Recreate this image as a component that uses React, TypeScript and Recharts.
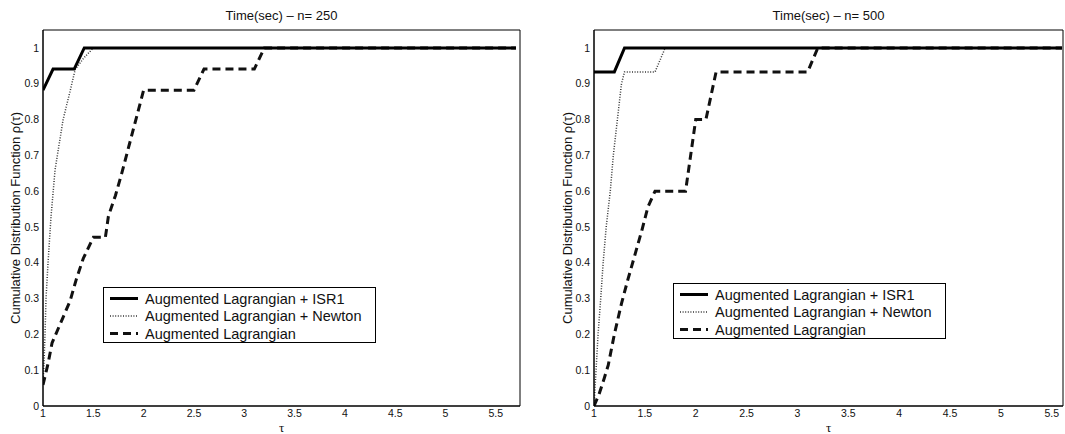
import React from 'react';
import { LineChart, Line, XAxis, YAxis } from 'recharts';

// ---------- data ----------
const yTicks = [0, 0.1, 0.2, 0.3, 0.4, 0.5, 0.6, 0.7, 0.8, 0.9, 1];
const xTicks = [1, 1.5, 2, 2.5, 3, 3.5, 4, 4.5, 5, 5.5];
const seriesNames = ['Augmented Lagrangian + ISR1', 'Augmented Lagrangian + Newton', 'Augmented Lagrangian'];
const titles = ['Time(sec) \u2013 n= 250', 'Time(sec) \u2013 n= 500'];

// n = 250
const leftIsr1Tau = [1, 1.1, 1.31, 1.41, 5.7];
const leftIsr1Rho = [0.882, 0.941, 0.941, 1, 1];
const leftNewtonTau = [1, 1.01, 1.02, 1.03, 1.05, 1.08, 1.12, 1.2, 1.27, 1.32, 1.4, 1.5, 5.7];
const leftNewtonRho = [0.06, 0.12, 0.2, 0.3, 0.4, 0.53, 0.66, 0.8, 0.88, 0.94, 0.97, 1, 1];
const leftAlTau = [1, 1.05, 1.09, 1.18, 1.27, 1.33, 1.4, 1.5, 1.62, 1.65, 1.72, 1.78, 2.0, 2.5, 2.6, 3.1, 3.2, 5.7];
const leftAlRho = [0.059, 0.118, 0.176, 0.235, 0.294, 0.353, 0.412, 0.471, 0.471, 0.53, 0.588, 0.647, 0.882, 0.882, 0.941, 0.941, 1, 1];

// n = 500
const rightIsr1Tau = [1, 1.2, 1.3, 5.6];
const rightIsr1Rho = [0.933, 0.933, 1, 1];
const rightNewtonTau = [1, 1.02, 1.04, 1.066, 1.09, 1.12, 1.16, 1.19, 1.23, 1.27, 1.3, 1.6, 1.7, 5.6];
const rightNewtonRho = [0, 0.1, 0.2, 0.3, 0.4, 0.5, 0.6, 0.7, 0.8, 0.9, 0.933, 0.933, 1, 1];
const rightAlTau = [1, 1.05, 1.1, 1.14, 1.2, 1.27, 1.33, 1.4, 1.47, 1.53, 1.6, 1.9, 2.0, 2.1, 2.2, 3.1, 3.2, 5.6];
const rightAlRho = [0, 0.033, 0.077, 0.114, 0.2, 0.286, 0.35, 0.42, 0.49, 0.556, 0.6, 0.6, 0.8, 0.8, 0.933, 0.933, 1, 1];

const zip = (t: number[], r: number[]) => t.map((x, i) => ({ x, y: r[i] }));

// ---------- styles ----------
const FONT = '"Liberation Sans", Arial, Helvetica, sans-serif';
const H = 434;
const AXIS_W = 30;
const styles = [
  { stroke: '#000', strokeWidth: 3, dash: undefined as string | undefined },
  { stroke: '#333', strokeWidth: 1.5, dash: '1 1.6' },
  { stroke: '#111', strokeWidth: 3, dash: '8 5' },
];

type PanelProps = {
  left: number;
  width: number;
  mLeft: number;
  mRight: number;
  xMax: number;
  title: string;
  data: { x: number; y: number }[][];
  legendLeft: number;
  legendTop: number;
  ylabelX: number;
};

function Panel(p: PanelProps) {
  const plotLeft = p.mLeft + AXIS_W;
  const plotRight = p.width - p.mRight;
  const cx = (plotLeft + plotRight) / 2;
  const dom: [number, number] = [1, p.xMax];
  const tickStyle = { fontSize: 10.5, fill: '#111', fontFamily: FONT };
  const order = [2, 1, 0];
  return (
    <div style={{ position: 'absolute', left: p.left, top: 0, width: p.width, height: H }}>
      <LineChart width={p.width} height={H} margin={{ top: 30, right: p.mRight, bottom: 8, left: p.mLeft }}>
        <XAxis xAxisId="b" type="number" dataKey="x" domain={dom} ticks={xTicks} allowDataOverflow height={20}
          tickLine={false} tickSize={0} tickMargin={4} axisLine={{ stroke: '#000' }} tick={tickStyle} interval={0} />
        <XAxis xAxisId="bm" orientation="bottom" mirror type="number" dataKey="x" domain={dom} ticks={xTicks} allowDataOverflow
          height={20} tick={false} tickSize={5} tickLine={{ stroke: '#000' }} axisLine={{ stroke: '#000' }} interval={0} />
        <XAxis xAxisId="t" orientation="top" mirror type="number" dataKey="x" domain={dom} ticks={xTicks} allowDataOverflow
          height={20} tick={false} tickSize={5} tickLine={{ stroke: '#000' }} axisLine={{ stroke: '#000' }} interval={0} />
        <YAxis yAxisId="l" type="number" domain={[0, 1.05]} ticks={yTicks} allowDataOverflow width={AXIS_W}
          tickLine={false} tickSize={0} tickMargin={4} axisLine={{ stroke: '#000' }} tick={tickStyle} interval={0} />
        <YAxis yAxisId="lm" mirror type="number" domain={[0, 1.05]} ticks={yTicks} allowDataOverflow width={AXIS_W}
          tick={false} tickSize={5} tickLine={{ stroke: '#000' }} axisLine={{ stroke: '#000' }} interval={0} />
        <YAxis yAxisId="r" orientation="right" mirror type="number" domain={[0, 1.05]} ticks={yTicks} allowDataOverflow width={AXIS_W}
          tick={false} tickSize={5} tickLine={{ stroke: '#000' }} axisLine={{ stroke: '#000' }} interval={0} />
        {order.map((i) => (
          <Line key={i} xAxisId="b" yAxisId="l" data={p.data[i]} dataKey="y" type="linear"
            stroke={styles[i].stroke} strokeWidth={styles[i].strokeWidth} strokeDasharray={styles[i].dash}
            dot={false} activeDot={false} isAnimationActive={false} />
        ))}
      </LineChart>
      <svg width={p.width} height={H} style={{ position: 'absolute', left: 0, top: 0, pointerEvents: 'none' }}>
        <text x={cx} y={19.5} textAnchor="middle" fontSize={13} fontFamily={FONT} fill="#111">{p.title}</text>
        <text x={cx} y={427} textAnchor="middle" dominantBaseline="central" fontSize={13}
          fontFamily='"Liberation Serif", "DejaVu Serif", serif' fill="#111">τ</text>
        <text x={p.ylabelX} y={218} textAnchor="middle" dominantBaseline="central" fontSize={13} fontFamily={FONT} fill="#111"
          transform={`rotate(-90 ${p.ylabelX} 218)`}>Cumulative Distribution Function ρ(τ)</text>
        <g transform={`translate(${p.legendLeft} ${p.legendTop})`}>
          <rect x={0.5} y={0.5} width={272} height={55} fill="#fff" stroke="#000" strokeWidth={1} />
          {seriesNames.map((name, i) => {
            const yy = 11.5 + i * 17.5;
            return (
              <g key={name}>
                <line x1={7} x2={35} y1={yy} y2={yy} stroke={styles[i].stroke} strokeWidth={styles[i].strokeWidth}
                  strokeDasharray={styles[i].dash} />
                <text x={42} y={yy} dominantBaseline="central" fontSize={14.5} fontFamily={FONT} fill="#111">{name}</text>
              </g>
            );
          })}
        </g>
      </svg>
    </div>
  );
}

export default function App() {
  const leftData = [zip(leftIsr1Tau, leftIsr1Rho), zip(leftNewtonTau, leftNewtonRho), zip(leftAlTau, leftAlRho)];
  const rightData = [zip(rightIsr1Tau, rightIsr1Rho), zip(rightNewtonTau, rightNewtonRho), zip(rightAlTau, rightAlRho)];
  return (
    <div style={{ position: 'absolute', left: 0, top: 0, width: 1065, height: H, background: '#fff', overflow: 'hidden' }}>
      <Panel left={0} width={530} mLeft={13} mRight={10} xMax={5.74} title={titles[0]} data={leftData}
        legendLeft={103} legendTop={287} ylabelX={15} />
      <Panel left={540} width={525} mLeft={24} mRight={2} xMax={5.61} title={titles[1]} data={rightData}
        legendLeft={133} legendTop={283} ylabelX={27} />
    </div>
  );
}
